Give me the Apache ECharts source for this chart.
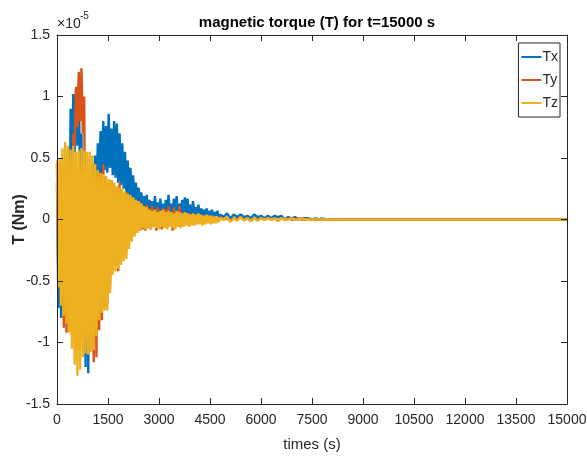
<!DOCTYPE html>
<html>
<head>
<meta charset="utf-8">
<script src="https://cdn.jsdelivr.net/npm/echarts@6/dist/echarts.min.js"></script>
<style>
  html, body { margin: 0; padding: 0; background: #fff; }
  #chart { width: 587px; height: 461px; }
</style>
</head>
<body>
<div id="chart"></div>
<script>
// values are in units of 1e-5 Nm (the axis shows the x10^-5 factor)
var DT1 = 40;          // s, sample step of the dense part, starting at t=0
var TAIL_START = 4900; // s, start of the coarse tail
var DT2 = 100;         // s, sample step of the tail
var T_END = 15000;

var seriesNames = ['Tx', 'Ty', 'Tz'];
var seriesColors = ['#0072BD', '#D95319', '#EDB120'];

var xTicks = [0, 1500, 3000, 4500, 6000, 7500, 9000, 10500, 12000, 13500, 15000];
var yTicks = [-1.5, -1, -0.5, 0, 0.5, 1, 1.5];

var txDense = [
  0.30, -0.72, 0.25, -0.80, 0.35, -0.70, 0.40, -0.62, 0.55, -0.50,
  0.90, 0.50, 1.02, 0.55, 1.05, 0.60, 1.06, 0.30, 0.70, -0.80,
  0.45, -1.20, 0.35, -1.25, 0.40, -0.95, 0.45, -0.70, 0.52, 0.10,
  0.62, 0.25, 0.72, 0.35, 0.80, 0.40, 0.76, 0.38, 0.86, 0.42,
  0.74, 0.36, 0.80, 0.34, 0.78, 0.30, 0.70, 0.28, 0.62, 0.25,
  0.55, 0.20, 0.48, 0.18, 0.42, 0.15, 0.36, 0.12, 0.30, 0.10,
  0.26, 0.08, 0.22, 0.06, 0.19, 0.05, 0.20, 0.04, 0.16, 0.05,
  0.15, 0.03, 0.19, 0.04, 0.14, 0.02, 0.17, 0.05, 0.13, 0.02,
  0.16, 0.04, 0.20, 0.05, 0.13, 0.03, 0.17, 0.04, 0.19, 0.03,
  0.13, 0.05, 0.16, 0.03, 0.18, 0.05, 0.17, 0.03, 0.12, 0.04,
  0.15, 0.03, 0.10, 0.04, 0.12, 0.02, 0.09, 0.03, 0.08, 0.03,
  0.09, 0.02, 0.07, 0.03, 0.08, 0.02, 0.06, 0.03, 0.07, 0.01,
  0.04
];
var txTail = [
  0.02, 0.05, 0.01, 0.04, 0.02, 0.04, 0.02, 0.03, 0.01, 0.04,
  0.02, 0.03, 0.01, 0.03, 0.01, 0.03, 0.02, 0.03, 0.00, 0.02,
  0.01, 0.02, 0.00, 0.01, 0.01, 0.01, 0.00, 0.01, 0.00, 0.01,
  0.00, 0.00
];

var tyDense = [
  0.45, -0.50, 0.35, -0.70, 0.40, -0.88, 0.30, -0.92, 0.42, -0.88,
  0.50, -0.95, 0.70, 0.60, 1.08, 0.75, 1.20, 0.80, 1.23, 0.70,
  1.00, -0.85, 0.50, -0.95, 0.40, -1.05, 0.35, -1.16, 0.45, -1.12,
  0.40, -0.90, 0.38, -0.82, 0.45, -0.72, 0.35, -0.68, 0.30, -0.55,
  0.32, -0.42, 0.28, -0.38, 0.25, -0.42, 0.30, -0.30, 0.22, -0.28,
  0.20, -0.25, 0.22, -0.18, 0.18, -0.14, 0.15, -0.12, 0.16, -0.10,
  0.12, -0.09, 0.14, -0.08, 0.10, -0.09, 0.12, -0.07, 0.09, -0.08,
  0.11, -0.06, 0.08, -0.09, 0.10, -0.05, 0.07, -0.08, 0.09, -0.05,
  0.08, -0.07, 0.11, -0.05, 0.06, -0.09, 0.10, -0.04, 0.05, -0.06,
  0.11, -0.04, 0.06, -0.05, 0.05, -0.03, 0.04, -0.04, 0.05, -0.02,
  0.03, -0.03, 0.04, -0.02, 0.03, -0.03, 0.02, -0.01, 0.03, -0.02,
  0.02, -0.01, 0.03, -0.01, 0.02, -0.01, 0.02, 0.00, 0.01, 0.00,
  0.02
];
var tyTail = [
  0.00, 0.01, -0.01, 0.01, 0.00, 0.02, 0.00, 0.01, -0.01, 0.01,
  0.00, 0.01, 0.00, 0.01, 0.00, 0.01, -0.01, 0.01, 0.00, 0.01,
  0.00, 0.00, 0.01, 0.00, 0.00, 0.01, 0.00, 0.00, 0.00, 0.00,
  0.00, 0.00
];

var tzDense = [
  0.48, -0.55, 0.50, -0.70, 0.58, -0.78, 0.63, -0.85, 0.60, -0.92,
  0.57, -1.05, 0.60, -1.18, 0.55, -1.27, 0.56, -1.22, 0.58, -1.12,
  0.56, -1.09, 0.55, -1.10, 0.55, -1.08, 0.52, -1.06, 0.45, -0.95,
  0.40, -0.82, 0.38, -0.76, 0.37, -0.74, 0.35, -0.74, 0.33, -0.60,
  0.32, -0.45, 0.30, -0.42, 0.27, -0.40, 0.26, -0.37, 0.25, -0.34,
  0.23, -0.32, 0.21, -0.24, 0.20, -0.18, 0.18, -0.14, 0.16, -0.11,
  0.15, -0.09, 0.13, -0.07, 0.11, -0.08, 0.10, -0.07, 0.08, -0.08,
  0.07, -0.06, 0.08, -0.07, 0.06, -0.08, 0.07, -0.06, 0.08, -0.07,
  0.06, -0.08, 0.07, -0.06, 0.06, -0.07, 0.05, -0.08, 0.07, -0.06,
  0.06, -0.07, 0.05, -0.06, 0.06, -0.05, 0.05, -0.06, 0.04, -0.05,
  0.05, -0.05, 0.04, -0.04, 0.05, -0.04, 0.04, -0.05, 0.03, -0.04,
  0.04, -0.03, 0.03, -0.04, 0.03, -0.03, 0.02, -0.03, 0.02, -0.02,
  0.01
];
var tzTail = [
  0.00, 0.02, -0.02, 0.01, -0.01, 0.02, -0.01, 0.01, -0.01, 0.01,
  -0.01, 0.01, 0.00, 0.01, 0.00, 0.01, -0.01, 0.01, 0.00, 0.00,
  0.01, 0.00, 0.00, 0.01, 0.00, 0.00, 0.00, 0.00, 0.00, 0.00,
  0.00, 0.00
];

// pair the samples with their times
function buildSeries(dense, tail) {
  var d = [];
  for (var i = 0; i < dense.length; i++) d.push([i * DT1, dense[i]]);
  for (var j = 0; j < tail.length; j++) d.push([TAIL_START + j * DT2, tail[j]]);
  d.push([T_END, 0]);
  return d;
}

var allData = [buildSeries(txDense, txTail), buildSeries(tyDense, tyTail), buildSeries(tzDense, tzTail)];

var FONT = '"Liberation Sans", Arial, sans-serif';
var AXIS_COLOR = '#262626';

var chart = echarts.init(document.getElementById('chart'), null, {renderer: 'canvas'});

var series = [];
for (var k = 0; k < seriesNames.length; k++) {
  series.push({
    name: seriesNames[k],
    type: 'line',
    data: allData[k],
    showSymbol: false,
    symbol: 'none',
    lineStyle: {color: seriesColors[k], width: 2.4, join: 'bevel'},
    itemStyle: {color: seriesColors[k]},
    emphasis: {disabled: true}
  });
}

function xAxisCfg(pos, showLabels) {
  return {
    type: 'value',
    position: pos,
    min: xTicks[0],
    max: xTicks[xTicks.length - 1],
    interval: 1500,
    name: showLabels ? 'times (s)' : '',
    nameLocation: 'middle',
    nameGap: 33,
    nameMoveOverlap: false,
    nameTextStyle: {fontFamily: FONT, fontSize: 15, color: AXIS_COLOR},
    axisLine: {show: true, onZero: false, lineStyle: {color: AXIS_COLOR, width: 1}},
    axisTick: {show: true, inside: true, length: 6, lineStyle: {color: AXIS_COLOR}},
    axisLabel: {
      show: showLabels, fontFamily: FONT, fontSize: 14, color: AXIS_COLOR, margin: 9,
      formatter: function (v) { return String(v); }
    },
    splitLine: {show: false},
    z: 5
  };
}

function yAxisCfg(pos, showLabels) {
  return {
    type: 'value',
    position: pos,
    min: yTicks[0],
    max: yTicks[yTicks.length - 1],
    interval: 0.5,
    name: showLabels ? 'T (Nm)' : '',
    nameLocation: 'middle',
    nameGap: 29,
    nameRotate: 90,
    nameMoveOverlap: false,
    nameTextStyle: {fontFamily: FONT, fontSize: 16, fontWeight: 'bold', color: AXIS_COLOR},
    axisLine: {show: true, onZero: false, lineStyle: {color: AXIS_COLOR, width: 1}},
    axisTick: {show: true, inside: true, length: 6, lineStyle: {color: AXIS_COLOR}},
    axisLabel: {
      show: showLabels, fontFamily: FONT, fontSize: 14, color: AXIS_COLOR, margin: 7,
      formatter: function (v) { return String(v); }
    },
    splitLine: {show: false},
    z: 5
  };
}

var option = {
  backgroundColor: '#fff',
  animation: false,
  title: {
    text: 'magnetic torque (T) for t=15000 s',
    left: 312,
    textAlign: 'center',
    top: 10,
    textStyle: {fontFamily: FONT, fontSize: 15, fontWeight: 'bold', color: '#000'}
  },
  grid: {left: 57, right: 20, top: 35, bottom: 57, containLabel: false, outerBoundsMode: 'none'},
  legend: {
    data: seriesNames,
    orient: 'vertical',
    right: 27,
    top: 43,
    itemWidth: 20,
    itemHeight: 2,
    itemGap: 9,
    icon: 'rect',
    padding: [7, 2, 7, 3],
    borderColor: AXIS_COLOR,
    borderWidth: 1,
    backgroundColor: '#fff',
    textStyle: {fontFamily: FONT, fontSize: 14, color: AXIS_COLOR, padding: [0, 0, 0, -4]}
  },
  xAxis: [xAxisCfg('bottom', true), xAxisCfg('top', false)],
  yAxis: [yAxisCfg('left', true), yAxisCfg('right', false)],
  series: series,
  graphic: [
    {type: 'text', left: 57, top: 17, style: {text: '\u00d710', fontFamily: FONT, fontSize: 14, fill: AXIS_COLOR}},
    {type: 'text', left: 80, top: 11, style: {text: '-5', fontFamily: FONT, fontSize: 10, fill: AXIS_COLOR}}
  ]
};

chart.setOption(option);
</script>
</body>
</html>
